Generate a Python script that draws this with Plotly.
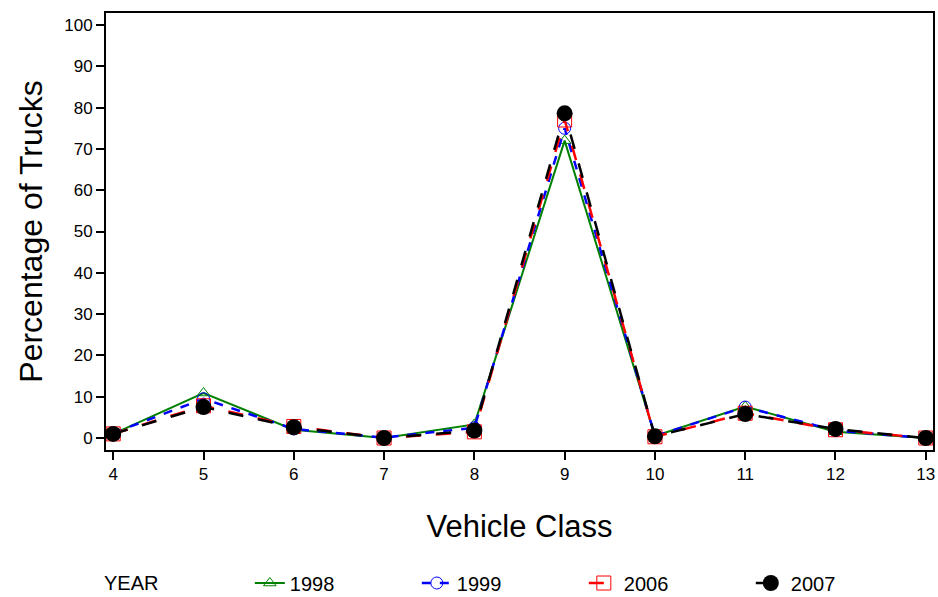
import plotly.graph_objects as go

vehicle_class = [4, 5, 6, 7, 8, 9, 10, 11, 12, 13]
y1998 = [1.0, 10.9, 2.0, 0.0, 3.3, 72.0, 0.5, 7.6, 1.5, 0.0]
y1999 = [1.2, 9.5, 2.2, 0.1, 2.5, 75.0, 0.5, 7.5, 1.8, 0.0]
y2006 = [1.0, 7.8, 2.8, 0.0, 1.5, 77.0, 0.3, 6.0, 2.0, 0.0]
y2007 = [1.0, 7.5, 2.6, 0.0, 1.8, 78.6, 0.4, 5.8, 2.2, 0.0]
y_ticks = [0, 10, 20, 30, 40, 50, 60, 70, 80, 90, 100]

fig = go.Figure()
fig.add_trace(go.Scatter(x=vehicle_class, y=y1998, name="1998", mode="lines+markers",
                         line=dict(color="#008000", width=2, dash="solid"),
                         marker=dict(symbol="triangle-up-open", size=11, color="#008000")))
fig.add_trace(go.Scatter(x=vehicle_class, y=y1999, name="1999", mode="lines+markers",
                         line=dict(color="#0000ff", width=2.5, dash="dash"),
                         marker=dict(symbol="circle-open", size=12, color="#0000ff")))
fig.add_trace(go.Scatter(x=vehicle_class, y=y2006, name="2006", mode="lines+markers",
                         line=dict(color="#ff0000", width=2.5, dash="longdash"),
                         marker=dict(symbol="square-open", size=14, color="#ff0000")))
fig.add_trace(go.Scatter(x=vehicle_class, y=y2007, name="2007", mode="lines+markers",
                         line=dict(color="#000000", width=2.5, dash="longdash"),
                         marker=dict(symbol="circle", size=16, color="#000000")))

fig.update_layout(
    width=938, height=597,
    margin=dict(l=106, r=5, t=13, b=147, autoexpand=False),
    paper_bgcolor="white", plot_bgcolor="white",
    font=dict(family="Arial, Liberation Sans, sans-serif", color="black", size=17),
    showlegend=True,
    legend=dict(orientation="h", xref="container", yref="container",
                x=102 / 938, xanchor="left", y=1 - 583 / 597, yanchor="middle",
                title=dict(text="YEAR" + "\u00a0" * 15, font=dict(size=20)),
                font=dict(size=20), entrywidth=122, entrywidthmode="pixels",
                bgcolor="rgba(0,0,0,0)"),
    xaxis=dict(range=[3.92, 13.08], tickvals=vehicle_class, showgrid=False, zeroline=False,
               showline=True, linecolor="black", linewidth=2, mirror=True,
               ticks="outside", ticklen=8, tickwidth=2, tickcolor="black",
               tickfont=dict(size=17),
               title=dict(text="Vehicle Class", font=dict(size=31), standoff=32)),
    yaxis=dict(range=[-2.9, 102.9], tickvals=y_ticks, showgrid=False, zeroline=False,
               showline=True, linecolor="black", linewidth=2, mirror=True,
               ticks="outside", ticklen=8, tickwidth=2, tickcolor="black",
               tickfont=dict(size=17),
               title=dict(text="Percentage of Trucks", font=dict(size=32), standoff=12)),
)

fig.write_html("out.html", config={"displayModeBar": False},
               post_script="document.body.style.margin='0';")
